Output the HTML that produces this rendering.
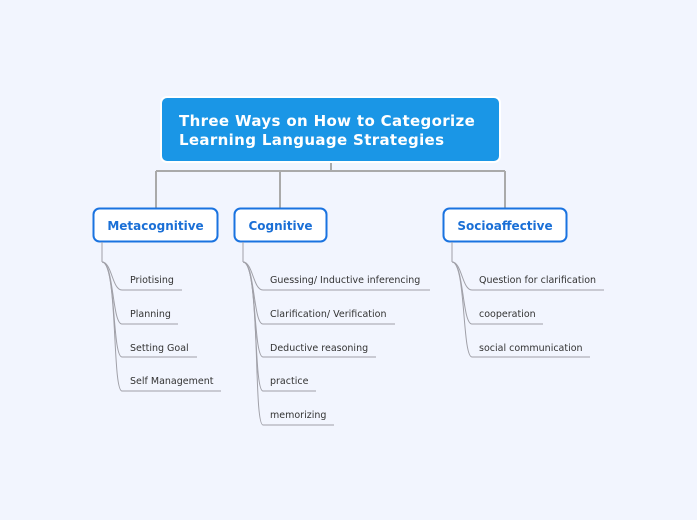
<!DOCTYPE html>
<html><head><style>body{margin:0;background:#f2f5fe}svg{display:block}</style></head><body>
<svg width="697" height="520" viewBox="0 0 697 520" xmlns="http://www.w3.org/2000/svg" font-family="'DejaVu Sans','Liberation Sans',sans-serif">
<rect width="697" height="520" fill="#f2f5fe"/>
<g stroke="#aaaaaa" stroke-width="2" fill="none">
<path d="M331 162V171M156 171H505M156 171V208M280 171V208M505 171V208"/>
</g>
<rect x="161" y="97" width="339" height="65" rx="6" fill="#1a96e6" stroke="#fff" stroke-width="2"/>
<text x="179" y="126" font-size="15" font-weight="bold" fill="#fff" letter-spacing="0.35">Three Ways on How to Categorize</text>
<text x="179" y="145" font-size="15" font-weight="bold" fill="#fff" letter-spacing="0.35">Learning Language  Strategies</text>
<g fill="#fff" stroke="#1a73e0" stroke-width="2">
<rect x="93.5" y="208.5" width="124" height="33" rx="6"/>
<rect x="234.5" y="208.5" width="92" height="33" rx="6"/>
<rect x="443.5" y="208.5" width="123" height="33" rx="6"/>
</g>
<g font-size="12" font-weight="bold" fill="#1a6fd6" text-anchor="middle">
<text x="155.5" y="230">Metacognitive</text>
<text x="280.5" y="230">Cognitive</text>
<text x="505" y="230">Socioaffective</text>
</g>
<g stroke="#a0a0a8" stroke-width="1" fill="none">
<path d="M102 242V262"/><path d="M243 242V262"/><path d="M452 242V262"/>
<path d="M102 262C112 262 112 290 122 290H182"/>
<path d="M102 262C114 262 112 324 122 324H178"/>
<path d="M102 262C116 262 112 357 122 357H197"/>
<path d="M102 262C118 262 112 391 122 391H221"/>
<path d="M243 262C253 262 253 290 263 290H430"/>
<path d="M243 262C255 262 253 324 263 324H395"/>
<path d="M243 262C257 262 253 357 263 357H376"/>
<path d="M243 262C259 262 253 391 263 391H316"/>
<path d="M243 262C261 262 253 425 263 425H334"/>
<path d="M452 262C462 262 462 290 472 290H604"/>
<path d="M452 262C464 262 462 324 472 324H543"/>
<path d="M452 262C466 262 462 357 472 357H590"/>
</g>
<g font-size="9.5" fill="#333">
<text x="130" y="283">Priotising</text>
<text x="130" y="317">Planning</text>
<text x="130" y="351">Setting Goal</text>
<text x="130" y="384">Self Management</text>
<text x="270" y="283">Guessing/ Inductive inferencing</text>
<text x="270" y="317">Clarification/ Verification</text>
<text x="270" y="351">Deductive reasoning</text>
<text x="270" y="384">practice</text>
<text x="270" y="418">memorizing</text>
<text x="479" y="283">Question for clarification</text>
<text x="479" y="317">cooperation</text>
<text x="479" y="351">social communication</text>
</g>
</svg>
</body></html>
